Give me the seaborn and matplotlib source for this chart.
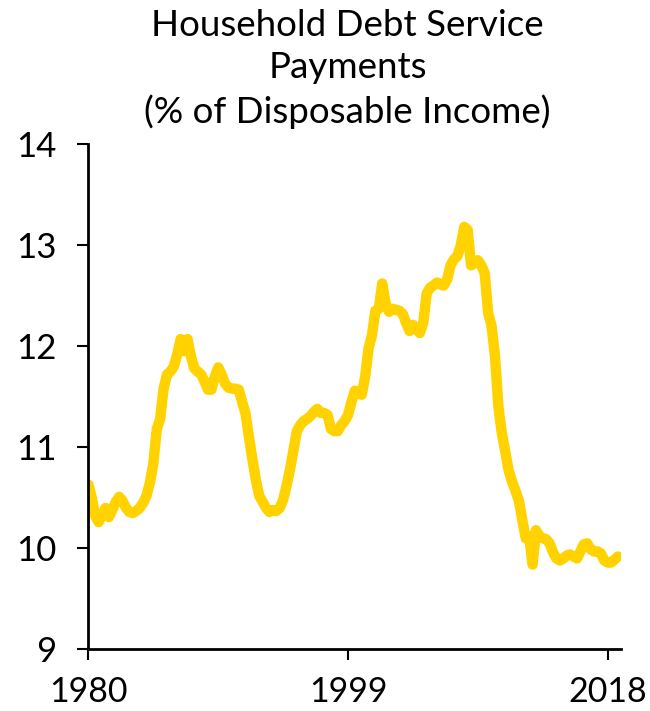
import numpy as np
import pandas as pd
import matplotlib
matplotlib.use("Agg")
import matplotlib.pyplot as plt
import seaborn as sns

# Household debt service ratio, quarterly from 1980Q1
start_year = 1980
dsr = [
    10.63, 10.50, 10.32, 10.26, 10.33, 10.40, 10.31, 10.38,
    10.46, 10.51, 10.47, 10.40, 10.36, 10.35, 10.37, 10.40,
    10.45, 10.52, 10.65, 10.84, 11.18, 11.28, 11.58, 11.72,
    11.75, 11.80, 11.92, 12.07, 11.95, 12.07, 11.90, 11.78,
    11.75, 11.72, 11.65, 11.57, 11.57, 11.70, 11.79, 11.72,
    11.63, 11.59, 11.58, 11.58, 11.57, 11.45, 11.33, 11.10,
    10.88, 10.68, 10.52, 10.46, 10.40, 10.36, 10.38, 10.37,
    10.40, 10.48, 10.62, 10.78, 10.97, 11.16, 11.22, 11.26,
    11.28, 11.31, 11.35, 11.38, 11.34, 11.34, 11.32, 11.18,
    11.16, 11.16, 11.22, 11.26, 11.32, 11.45, 11.56, 11.53,
    11.52, 11.70, 11.98, 12.11, 12.35, 12.37, 12.62, 12.42,
    12.34, 12.37, 12.36, 12.35, 12.32, 12.23, 12.15, 12.21,
    12.17, 12.13, 12.23, 12.52, 12.58, 12.60, 12.63, 12.61,
    12.60, 12.66, 12.80, 12.86, 12.89, 13.00, 13.18, 13.15,
    12.80, 12.82, 12.85, 12.80, 12.72, 12.33, 12.20, 11.90,
    11.40, 11.14, 10.96, 10.77, 10.66, 10.57, 10.47, 10.28,
    10.10, 10.12, 9.84, 10.18, 10.12, 10.10, 10.09, 10.05,
    9.96, 9.90, 9.88, 9.90, 9.93, 9.94, 9.92, 9.90,
    9.97, 10.04, 10.05, 9.99, 9.97, 9.97, 9.95, 9.88,
    9.86, 9.86, 9.89, 9.92,
]
x_ticks = [1980, 1999, 2018]
x_tick_labels = ["1980", "1999", "2018"]
y_ticks = [9, 10, 11, 12, 13, 14]
title_lines = ["Household Debt Service", "Payments", "(% of Disposable Income)"]

df = pd.DataFrame({
    "year": start_year + np.arange(len(dsr)) / 4.0,
    "dsr": dsr,
})

sns.set_style("ticks")
plt.rcParams["font.family"] = ["Lato", "DejaVu Sans"]

fig = plt.figure(figsize=(6.5, 7.11), dpi=100)
ax = fig.add_axes([0.136, 0.0865, 0.820, 0.711])

sns.lineplot(data=df, x="year", y="dsr", ax=ax, color="#FFD200",
             linewidth=7.5, solid_capstyle="round", solid_joinstyle="round")

ax.set_xlim(1980, 2019.0)
ax.set_ylim(9, 14)
ax.set_xticks(x_ticks)
ax.set_xticklabels(x_tick_labels)
ax.set_yticks(y_ticks)
ax.set_xlabel("")
ax.set_ylabel("")

for side in ["top", "right"]:
    ax.spines[side].set_visible(False)
for side in ["left", "bottom"]:
    ax.spines[side].set_linewidth(2.0)
    ax.spines[side].set_color("black")

ax.tick_params(axis="both", which="major", length=8, width=1.5, color="black",
               labelsize=25, labelcolor="black", direction="out")
ax.tick_params(axis="y", pad=15)
ax.tick_params(axis="x", pad=11, labelsize=24.5)

fig.text(0.535, 0.988, "\n".join(title_lines), ha="center", va="top",
         fontsize=26.5, color="black", linespacing=1.36)

fig.savefig("out.png", dpi=100)
